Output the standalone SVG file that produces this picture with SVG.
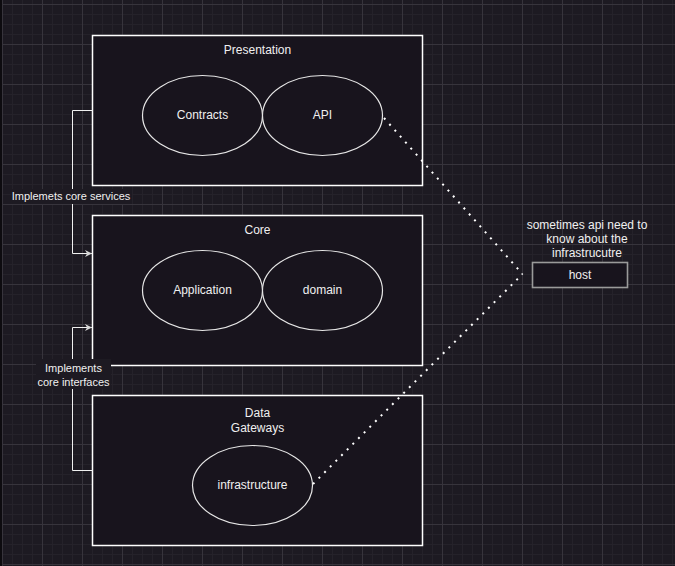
<svg xmlns="http://www.w3.org/2000/svg" width="675" height="566" viewBox="0 0 675 566">
<defs>
<pattern id="grid" x="2" y="4" width="40" height="40" patternUnits="userSpaceOnUse">
<rect width="40" height="40" fill="#1d1a22"/>
<rect x="10" y="0" width="1" height="40" fill="#25222a"/>
<rect x="20" y="0" width="1" height="40" fill="#25222a"/>
<rect x="30" y="0" width="1" height="40" fill="#25222a"/>
<rect x="0" y="10" width="40" height="1" fill="#25222a"/>
<rect x="0" y="20" width="40" height="1" fill="#25222a"/>
<rect x="0" y="30" width="40" height="1" fill="#25222a"/>
<rect x="0" y="0" width="1" height="40" fill="#37343c"/>
<rect x="0" y="0" width="40" height="1" fill="#37343c"/>
</pattern>
<marker id="arrow" viewBox="0 0 10 10" refX="10" refY="5" markerWidth="9" markerHeight="7" markerUnits="userSpaceOnUse" orient="auto">
<path d="M0,0 L10,5 L0,10 L3,5 Z" fill="#d8d8d8"/>
</marker>
<style>
.box{fill:#18141d;stroke:#ffffff;stroke-width:1.5}
.ell{fill:#18141d;stroke:#e6e6e6;stroke-width:1.2}
.t{font-family:"Liberation Sans",Arial,sans-serif;font-size:12px;fill:#f0f0f0;text-anchor:middle}
.lbl{font-family:"Liberation Sans",Arial,sans-serif;font-size:11px;fill:#f0f0f0;text-anchor:middle}
.edge{fill:none;stroke:#f0f0f0;stroke-width:1}
.dot{fill:none;stroke:#ffffff;stroke-width:2;stroke-dasharray:2 6}
.lblbg{fill:#1d1a22}
</style>
</defs>
<rect width="675" height="566" fill="url(#grid)"/>
<rect x="0" y="0" width="2" height="566" fill="#0d0b0f"/>

<g id="presentation">
<rect class="box" x="92.5" y="35.5" width="330" height="150"/>
<text class="t" x="257.5" y="54">Presentation</text>
</g>
<g id="contracts">
<ellipse class="ell" cx="202.5" cy="115.5" rx="60" ry="40"/>
<text class="t" x="202.5" y="119">Contracts</text>
</g>
<g id="api">
<ellipse class="ell" cx="322.5" cy="115.5" rx="60" ry="40"/>
<text class="t" x="322.5" y="119">API</text>
</g>

<g id="core">
<rect class="box" x="92.5" y="215.5" width="330" height="150"/>
<text class="t" x="257.5" y="234">Core</text>
</g>
<g id="application">
<ellipse class="ell" cx="202.5" cy="290.5" rx="60" ry="40"/>
<text class="t" x="202.5" y="294">Application</text>
</g>
<g id="domain">
<ellipse class="ell" cx="322.5" cy="290.5" rx="60" ry="40"/>
<text class="t" x="322.5" y="294">domain</text>
</g>

<g id="data-gateways">
<rect class="box" x="92.5" y="395.5" width="330" height="150"/>
<text class="t" x="257.5" y="416.5">Data</text>
<text class="t" x="257.5" y="432">Gateways</text>
</g>
<g id="infrastructure">
<ellipse class="ell" cx="252.5" cy="485.5" rx="60" ry="40"/>
<text class="t" x="252.5" y="489">infrastructure</text>
</g>

<g id="host">
<rect x="532.5" y="262.5" width="95" height="25" fill="#18141d" stroke="#9a9a9a" stroke-width="1.6"/>
<text class="t" x="580" y="279">host</text>
</g>
<g id="host-note">
<text class="t" x="587" y="228.5">sometimes api need to</text>
<text class="t" x="587" y="242.5">know about the</text>
<text class="t" x="587" y="256.5">infrastrucutre</text>
</g>

<g id="connectors">
<path class="edge" d="M92.5,110.5 H72.5 V253.5 H92" marker-end="url(#arrow)"/>
<path class="edge" d="M92.5,470.5 H72.5 V327.5 H92" marker-end="url(#arrow)"/>
<path class="dot" d="M384,118 L522.5,274"/>
<path class="dot" d="M313,484 L522.5,274"/>
<rect class="lblbg" x="11" y="189" width="121" height="15"/>
<text class="lbl" x="71" y="200">Implemets core services</text>
<rect class="lblbg" x="36" y="359" width="75" height="30"/>
<text class="lbl" x="73.5" y="372">Implements</text>
<text class="lbl" x="73.5" y="386">core interfaces</text>
</g>
</svg>
